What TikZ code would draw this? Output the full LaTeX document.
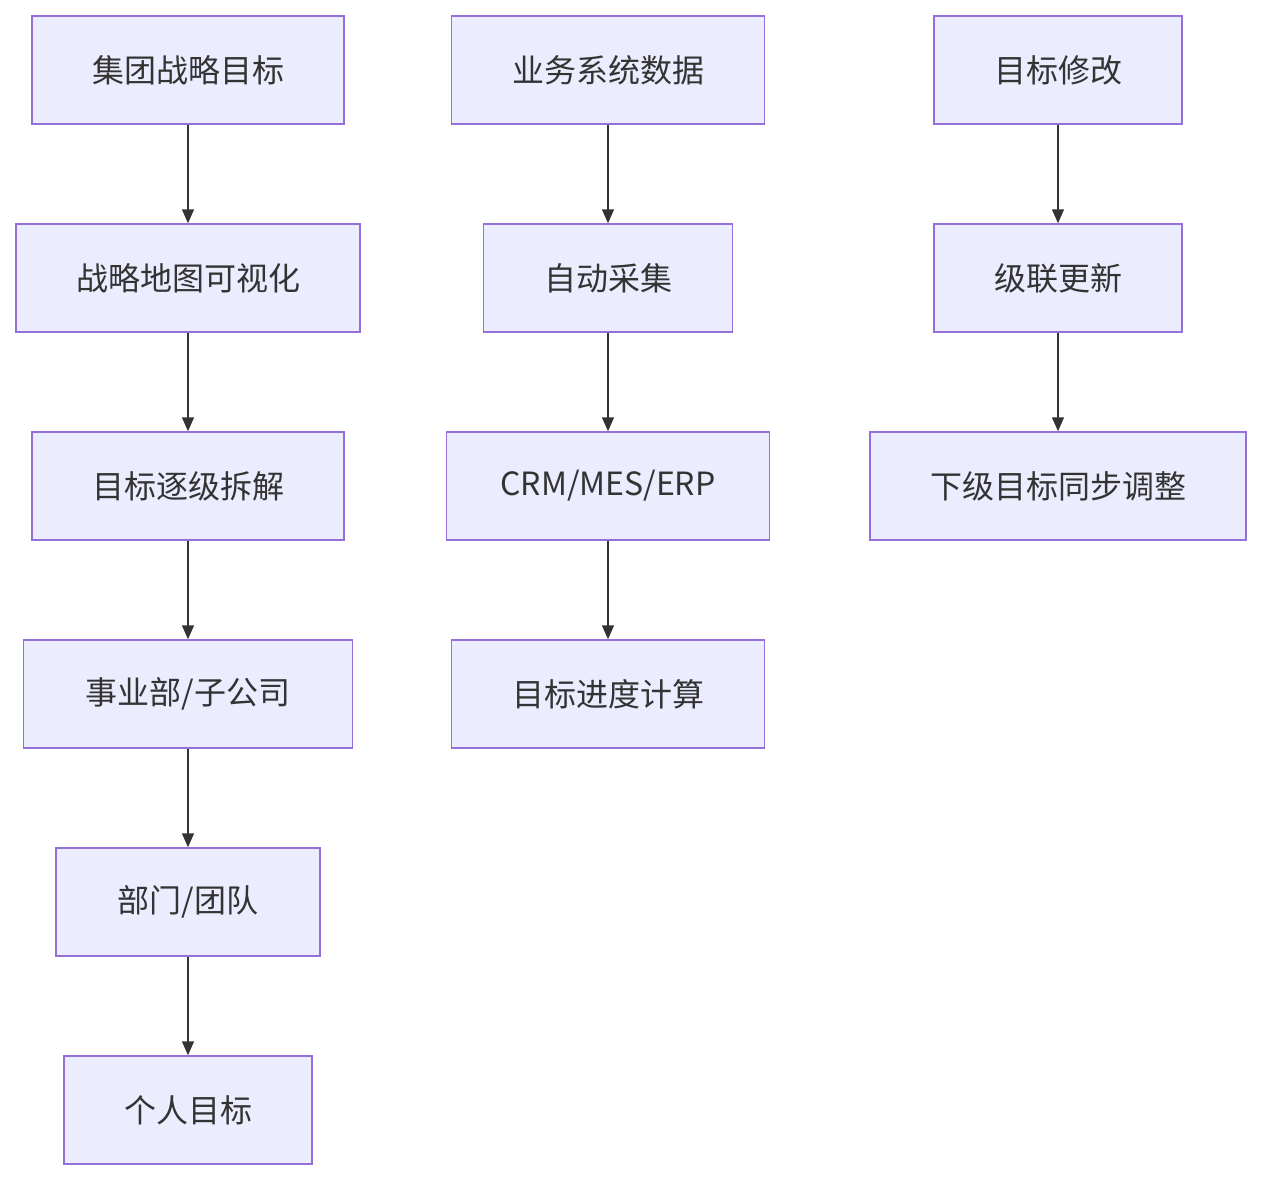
\documentclass[tikz,border=0pt]{standalone}
\usepackage{fontspec}
\setmainfont{Noto Sans CJK SC}
\usetikzlibrary{arrows.meta}
\definecolor{boxfill}{HTML}{ECECFF}
\definecolor{boxline}{HTML}{9370DB}
\definecolor{ink}{HTML}{333333}
\tikzset{
  box/.style={draw=boxline, fill=boxfill, line width=1.5pt, text=ink, font=\fontsize{32}{38}\selectfont, minimum height=108pt, inner sep=0pt, anchor=center},
  conn/.style={draw=ink, line width=1.6pt, -{Triangle[length=14pt,width=12pt]}}
}
\begin{document}
\begin{tikzpicture}[x=1pt,y=-1pt]
\useasboundingbox (0,0) rectangle (1261,1180);
% column 1
\node[box, minimum width=312pt] (a1) at (188,70) {集团战略目标};
\node[box, minimum width=344pt] (a2) at (188,278) {战略地图可视化};
\node[box, minimum width=312pt] (a3) at (188,486) {目标逐级拆解};
\node[box, minimum width=329pt] (a4) at (188,694) {事业部/子公司};
\node[box, minimum width=264pt] (a5) at (188,902) {部门/团队};
\node[box, minimum width=248pt] (a6) at (188,1110) {个人目标};
% column 2
\node[box, minimum width=313pt] (b1) at (608,70) {业务系统数据};
\node[box, minimum width=249pt] (b2) at (608,278) {自动采集};
\node[box, minimum width=323pt] (b3) at (608,486) {CRM/MES/ERP};
\node[box, minimum width=313pt] (b4) at (608,694) {目标进度计算};
% column 3
\node[box, minimum width=248pt] (c1) at (1058,70) {目标修改};
\node[box, minimum width=248pt] (c2) at (1058,278) {级联更新};
\node[box, minimum width=376pt] (c3) at (1058,486) {下级目标同步调整};
% connectors
\draw[conn] (a1) -- (a2);
\draw[conn] (a2) -- (a3);
\draw[conn] (a3) -- (a4);
\draw[conn] (a4) -- (a5);
\draw[conn] (a5) -- (a6);
\draw[conn] (b1) -- (b2);
\draw[conn] (b2) -- (b3);
\draw[conn] (b3) -- (b4);
\draw[conn] (c1) -- (c2);
\draw[conn] (c2) -- (c3);
\end{tikzpicture}
\end{document}
